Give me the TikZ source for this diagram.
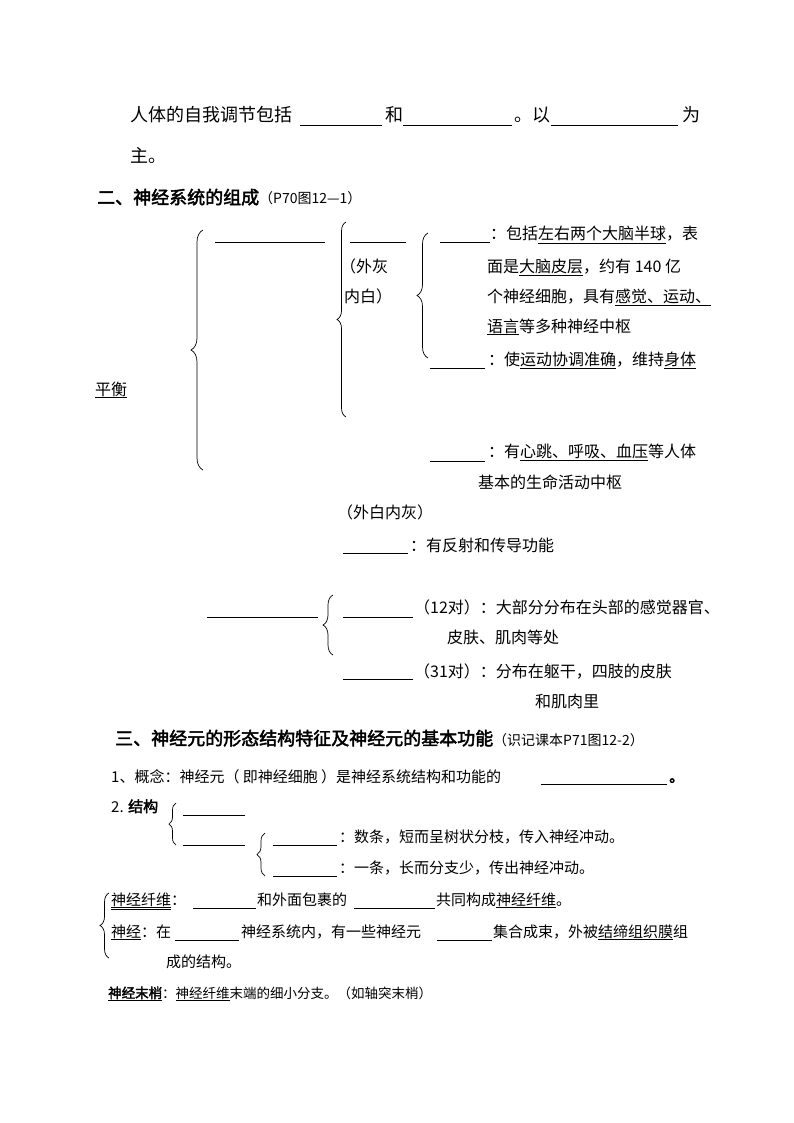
\documentclass[tikz,border=0pt]{standalone}
\usepackage{fontspec}
\setmainfont{Noto Sans CJK SC}[AutoFakeBold=2.5]
\usetikzlibrary{decorations.pathreplacing}
\tikzset{t/.style={anchor=base west,inner sep=0pt,font=\fontsize{16}{18}\selectfont},
 big/.style={anchor=base west,inner sep=0pt,font=\fontsize{18}{20}\selectfont},
 s/.style={anchor=base west,inner sep=0pt,font=\fontsize{15}{17}\selectfont},
 bl/.style={line width=0.7pt},
 br/.style={decorate,decoration={brace,amplitude=#1},line width=0.7pt}}
\newcommand\ul[1]{\underline{#1}}
\begin{document}
\begin{tikzpicture}[x=1pt,y=-1pt]
\useasboundingbox (0,0) rectangle (794,1123);
% line 1
\node[big] (a1) at (130,122) {人体的自我调节包括};
\draw[bl] (300,125) -- (382,125);
\node[big] (a2) at (385,122) {和};
\draw[bl] (403,125) -- (512,125);
\node[big] (a3) at (514,122) {。以};
\draw[bl] (551,125) -- (678,125);
\node[big] (a4) at (682,122) {为};
\node[big] (a5) at (130,163) {主。};
\node[big] (h2) at (97,204) {\bfseries 二、神经系统的组成{\mdseries\fontsize{14}{15}\selectfont（P70图12—1）}};
% braces
\draw[br=12pt] (203,470) -- (203,230);
\draw[bl] (215,242) -- (325,242);
\draw[br=9pt] (346,417) -- (346,222);
\draw[bl] (350,242) -- (406,242);
\node[t] (b1) at (340,272) {（外灰};
\node[t] (b2) at (344,302) {内白）};
\draw[br=11pt] (428,358) -- (428,233);
\draw[bl] (440,242) -- (490,242);
\node[t] (c1) at (490,240) {：包括\ul{左右两个大脑半球}，表};
\node[t] (c2) at (487,272) {面是\ul{大脑皮层}，约有 140 亿};
\node[t] (c3) at (487,302) {个神经细胞，具有\ul{感觉、运动、}};
\node[t] (c4) at (487,332) {\ul{语言}等多种神经中枢};
\draw[bl] (430,368) -- (485,368);
\node[t] (d1) at (488,365) {：使\ul{运动协调准确}，维持\ul{身体}};
\node[t] (d2) at (95,395) {\ul{平衡}};
\draw[bl] (430,461) -- (485,461);
\node[t] (e1) at (488,457) {：有\ul{心跳、呼吸、血压}等人体};
\node[t] (e2) at (478,488) {基本的生命活动中枢};
\node[t] (f1) at (337,518) {（外白内灰）};
\draw[bl] (343,553) -- (408,553);
\node[t] (f2) at (410,551) {：有反射和传导功能};
\draw[bl] (207,617) -- (318,617);
\draw[br=10pt] (333,655) -- (333,595);
\draw[bl] (343,617) -- (413,617);
\node[t] (g1) at (414,613) {（12对）：大部分分布在头部的感觉器官、};
\node[t] (g2) at (447,643) {皮肤、肌肉等处};
\draw[bl] (343,679) -- (413,679);
\node[t] (g3) at (414,677) {（31对）：分布在躯干，四肢的皮肤};
\node[t] (g4) at (535,707) {和肌肉里};
% section 3
\node[big] (h3) at (115,745) {\bfseries 三、神经元的形态结构特征及神经元的基本功能{\mdseries\fontsize{14}{15}\selectfont（识记课本P71图12-2）}};
\node[s] (i1) at (111,782) {1、概念：神经元（ 即神经细胞 ）是神经系统结构和功能的};
\draw[bl] (541,784) -- (667,784);
\node[s] (i2) at (669,782) {\bfseries 。};
\node[s] (j1) at (111,812) {2. \bfseries 结构};
\draw[br=7pt] (176,845) -- (176,803);
\draw[bl] (183,815) -- (245,815);
\draw[bl] (183,845) -- (245,845);
\draw[br=8pt] (265,876) -- (265,833);
\draw[bl] (273,845) -- (337,845);
\node[s] (k1) at (339,842) {：数条，短而呈树状分枝，传入神经冲动。};
\draw[bl] (273,876) -- (337,876);
\node[s] (k2) at (339,873) {：一条，长而分支少，传出神经冲动。};
\draw[br=9pt] (109,958) -- (109,893);
\node[s] (l1) at (111,905) {\underline{\underline{神经纤维}}：};
\draw[bl] (193,908) -- (256,908);
\node[s] (l2) at (257,905) {和外面包裹的};
\draw[bl] (354,908) -- (435,908);
\node[s] (l3) at (436,905) {共同构成\ul{神经纤维}。};
\node[s] (m1) at (111,937) {\ul{神经}：在};
\draw[bl] (175,940) -- (239,940);
\node[s] (m2) at (241,937) {神经系统内，有一些神经元};
\draw[bl] (437,940) -- (492,940);
\node[s] (m3) at (493,937) {集合成束，外被\ul{结缔组织膜}组};
\node[s] (m4) at (166,967) {成的结构。};
\node[anchor=base west,inner sep=0pt,font=\fontsize{13.5}{15}\selectfont] (n1) at (108,998) {\ul{\bfseries 神经末梢}：\ul{神经纤维}末端的细小分支。（如轴突末梢）};
\end{tikzpicture}
\end{document}
